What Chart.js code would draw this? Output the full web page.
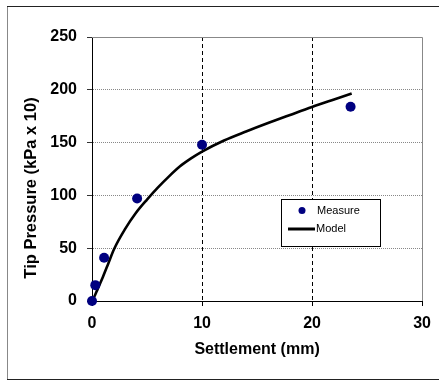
<!DOCTYPE html>
<html>
<head>
<meta charset="utf-8">
<script src="https://cdn.jsdelivr.net/npm/chart.js@4.4.0/dist/chart.umd.min.js"></script>
<style>
  html, body { margin: 0; padding: 0; background: #fff; }
  #wrap { width: 439px; height: 381px; position: relative; }
</style>
</head>
<body>
<div id="wrap"><canvas id="myChart"></canvas></div>
<script>
// measured points (settlement mm, tip pressure kPa x 10)
const measureX = [0, 0.3, 1.1, 4.1, 10.0, 23.5]
const measureY = [0, 15, 41, 97, 148, 184]
// model curve
const modelX = [0, 0.25, 0.5, 1, 1.5, 2, 3, 4, 5, 6, 7, 8, 9, 10, 12, 14, 16, 18, 20, 22, 23.6]
const modelY = [0, 5, 11, 23, 36, 49, 68, 83.5, 96, 107.5, 118, 127.5, 135, 141.5, 152, 160.5, 168.5, 176.2, 183.8, 190.9, 196.5]
const xTicks = [0, 10, 20, 30]
const yTicks = [0, 50, 100, 150, 200, 250]
const seriesNames = ['Measure', 'Model']
const xTitle = 'Settlement (mm)'
const yTitle = 'Tip Pressure (kPa x 10)'

const FONT = "'Liberation Sans', Arial, sans-serif"
const toPts = (xs, ys) => xs.map((x, i) => ({ x: x, y: ys[i] }))

// white background + outer frame + plot top/right border
const framePlugin = {
  id: 'frame',
  beforeDraw(chart) {
    const c = chart.ctx
    c.save()
    c.fillStyle = '#fff'
    c.fillRect(0, 0, chart.width, chart.height)
    c.lineWidth = 1
    c.strokeStyle = '#888'
    c.beginPath(); c.moveTo(7.5, 6); c.lineTo(7.5, 380); c.stroke()
    c.strokeStyle = '#222'
    c.beginPath(); c.moveTo(7, 6.5); c.lineTo(chart.width, 6.5); c.stroke()
    c.beginPath(); c.moveTo(7, 379.5); c.lineTo(chart.width, 379.5); c.stroke()
    c.restore()
  },
  beforeDatasetsDraw(chart) {
    const a = chart.chartArea
    const c = chart.ctx
    c.save()
    c.strokeStyle = '#888'
    c.lineWidth = 1
    c.beginPath()
    c.moveTo(a.left, Math.round(a.top) + 0.5)
    c.lineTo(Math.round(a.right) + 0.5, Math.round(a.top) + 0.5)
    c.lineTo(Math.round(a.right) + 0.5, a.bottom)
    c.stroke()
    c.restore()
  },
  afterDraw(chart) {
    const c = chart.ctx
    // y axis title, sits a bit low like the original
    c.save()
    c.translate(31, 188)
    c.rotate(-Math.PI / 2)
    c.font = 'bold 16.5px ' + FONT
    c.fillStyle = '#000'
    c.textAlign = 'center'
    c.textBaseline = 'middle'
    c.fillText(yTitle, 0, 0)
    c.restore()

    // legend box
    const ds = chart.data.datasets
    const bx = 281, by = 199, bw = 99, bh = 47
    c.save()
    c.fillStyle = '#fff'
    c.fillRect(bx, by, bw, bh)
    c.strokeStyle = '#000'
    c.lineWidth = 1
    c.strokeRect(bx + 0.5, by + 0.5, bw, bh)
    c.fillStyle = ds[0].backgroundColor
    c.beginPath(); c.arc(302, 210.5, 3.5, 0, Math.PI * 2); c.fill()
    c.strokeStyle = ds[1].borderColor
    c.lineWidth = 3
    c.beginPath(); c.moveTo(288, 229); c.lineTo(315, 229); c.stroke()
    c.fillStyle = '#000'
    c.font = '11px ' + FONT
    c.textBaseline = 'middle'
    c.fillText(ds[0].label, 317, 211)
    c.fillText(ds[1].label, 316, 229)
    c.restore()
  }
}

const ctx = document.getElementById('myChart')
const myChart = new Chart(ctx, {
  type: 'scatter',
  data: {
    datasets: [
      {
        label: seriesNames[0],
        data: toPts(measureX, measureY),
        backgroundColor: '#000080',
        borderColor: '#000080',
        borderWidth: 0,
        pointRadius: 5,
        showLine: false,
        clip: false
      },
      {
        label: seriesNames[1],
        data: toPts(modelX, modelY),
        borderColor: '#000',
        backgroundColor: '#000',
        borderWidth: 2.6,
        pointRadius: 0,
        showLine: true,
        cubicInterpolationMode: 'monotone'
      }
    ]
  },
  options: {
    responsive: true,
    maintainAspectRatio: false,
    animation: false,
    layout: { padding: { top: 37, right: 15, left: 0, bottom: 0 } },
    plugins: {
      legend: { display: false },
      tooltip: { enabled: false }
    },
    scales: {
      x: {
        type: 'linear',
        min: 0,
        max: 30,
        afterFit: s => { s.height = 80 },
        afterBuildTicks: s => { s.ticks = xTicks.map(v => ({ value: v })) },
        ticks: { color: '#000', padding: 8, font: { family: FONT, size: 16, weight: 'bold' } },
        grid: {
          color: c => (c.tick && c.tick.value > 0 && c.tick.value < 30) ? '#000' : 'rgba(0,0,0,0)',
          tickColor: '#000',
          tickLength: 5,
          lineWidth: 1
        },
        border: { color: '#000', width: 1, dash: [4, 3] },
        title: {
          display: true,
          text: xTitle,
          color: '#000',
          font: { family: FONT, size: 16, weight: 'bold' },
          padding: { top: 0, bottom: 22 }
        }
      },
      y: {
        type: 'linear',
        min: 0,
        max: 250,
        afterFit: s => { s.width = 92 },
        afterBuildTicks: s => { s.ticks = yTicks.map(v => ({ value: v })) },
        ticks: { color: '#000', padding: 10, font: { family: FONT, size: 16, weight: 'bold' } },
        grid: {
          color: c => (c.tick && c.tick.value > 0) ? '#888' : 'rgba(0,0,0,0)',
          tickColor: '#333',
          tickLength: 5,
          lineWidth: 1
        },
        border: { color: '#000', width: 1, dash: [1, 1] }
      }
    }
  },
  plugins: [framePlugin]
})
</script>
</body>
</html>
